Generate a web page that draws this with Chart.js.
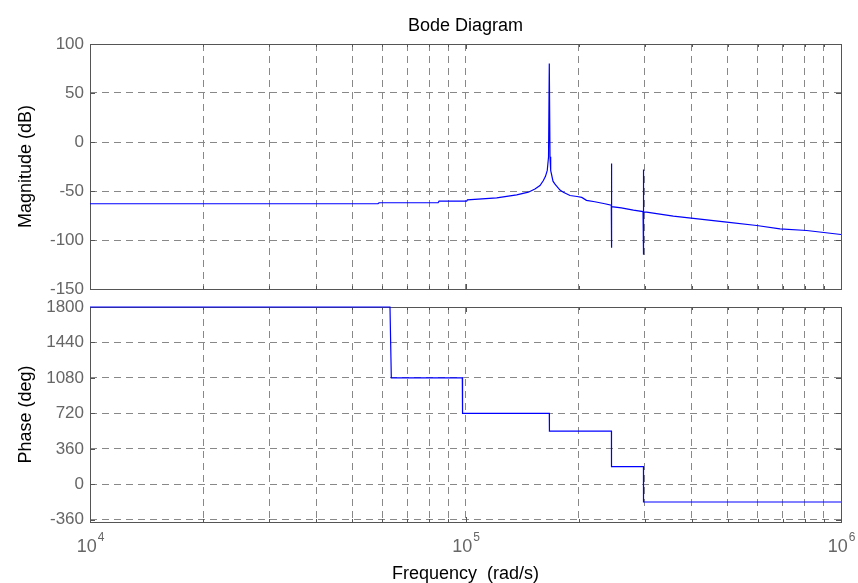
<!DOCTYPE html>
<html>
<head>
<meta charset="utf-8">
<script src="https://cdn.jsdelivr.net/npm/chart.js@4.4.1/dist/chart.umd.min.js"></script>
<style>
  body { margin: 0; background: #fff; }
  #wrap { position: relative; width: 858px; height: 583px; }
  .box { position: absolute; left: 0; width: 858px; }
</style>
</head>
<body>
<div id="wrap">
  <div class="box" style="top:0;height:320px"><canvas id="mag"></canvas></div>
  <div class="box" style="top:283px;height:300px"><canvas id="fase"></canvas></div>
</div>
<script>
const magFreq = [1e4, 58480, 58840, 84530, 85040, 100700, 101200, 121100, 136900, 147000,
  153100, 157900, 161200, 163300, 165100, 166400, 167170, 167900, 168600, 171000,
  173100, 178500, 182200, 189800, 198200, 204000, 210000, 221000, 235000, 244500,
  244700, 244900, 245200, 260000, 280000, 297000, 297500, 298000, 298300, 303600,
  357600, 496300, 596300, 687800, 810300, 1e6];
const magDb = [-63, -63, -62, -62, -60.3, -60.3, -59, -57, -54, -51.2,
  -48, -44.4, -39.3, -35, -29, -15, 80, -15, -29, -40,
  -43, -49, -51.2, -54.6, -55.6, -56.5, -59.5, -61, -63, -64.5,
  -22, -108, -66, -67.3, -69.5, -71, -28, -115, -71.3, -71.6,
  -75.7, -81.8, -85.2, -88.6, -90.3, -94.4];

const faseFreq = [1e4, 62940, 63450, 98060, 98200, 167170, 167300, 244700, 244800, 297800, 297900, 1e6];
const faseDeg = [1800, 1800, 1080, 1080, 720, 720, 540, 540, 180, 180, -180, -180];

const magTicks = [-150, -100, -50, 0, 50, 100];
const faseTicks = [-360, 0, 360, 720, 1080, 1440, 1800];
const decadas = [4, 5, 6];

const FUENTE = '"Liberation Sans", Arial, sans-serif';
const GRIS = '#666666';

function puntos(xs, ys) {
  return xs.map((x, i) => ({ x: x, y: ys[i] }));
}

// ticks del eje log: 1..9 por decada
function ticksLog(scale) {
  const t = [];
  for (let e = decadas[0]; e < decadas[decadas.length - 1]; e++) {
    for (let m = 1; m < 10; m++) t.push({ value: m * Math.pow(10, e), major: m === 1 });
  }
  t.push({ value: Math.pow(10, decadas[decadas.length - 1]), major: true });
  scale.ticks = t;
}

// marco y marcas interiores estilo MATLAB
const marco = {
  id: 'marco',
  beforeDatasetsDraw(chart) {
    const a = chart.chartArea;
    const ctx = chart.ctx;
    ctx.save();
    ctx.strokeStyle = '#555555';
    ctx.lineWidth = 1;
    ctx.beginPath();
    chart.scales.x.ticks.forEach(t => {
      const px = Math.round(chart.scales.x.getPixelForValue(t.value)) + 0.5;
      const l = t.major ? 5 : 3;
      ctx.moveTo(px, a.top); ctx.lineTo(px, a.top + l);
      ctx.moveTo(px, a.bottom); ctx.lineTo(px, a.bottom - l);
    });
    chart.scales.y.ticks.forEach(t => {
      const py = Math.round(chart.scales.y.getPixelForValue(t.value)) + 0.5;
      ctx.moveTo(a.left, py); ctx.lineTo(a.left + 5, py);
      ctx.moveTo(a.right, py); ctx.lineTo(a.right - 5, py);
    });
    ctx.stroke();
    ctx.strokeRect(Math.round(a.left) + 0.5, Math.round(a.top) + 0.5,
      Math.round(a.right - a.left), Math.round(a.bottom - a.top));
    ctx.restore();
  }
};

// textos: titulo, etiquetas 10^n y titulo del eje x
const textos = {
  id: 'textos',
  afterDraw(chart, args, opts) {
    const ctx = chart.ctx;
    const a = chart.chartArea;
    const cx = (a.left + a.right) / 2;
    ctx.save();
    if (opts.titulo) {
      ctx.fillStyle = '#000';
      ctx.font = '18px ' + FUENTE;
      ctx.textAlign = 'center';
      ctx.textBaseline = 'alphabetic';
      ctx.fillText(opts.titulo, cx, a.top - 13);
    }
    if (opts.etiquetasX) {
      decadas.forEach(e => {
        const px = chart.scales.x.getPixelForValue(Math.pow(10, e));
        ctx.font = '18px ' + FUENTE;
        const w1 = ctx.measureText('10').width;
        ctx.font = '12px ' + FUENTE;
        const w2 = ctx.measureText(String(e)).width;
        const x0 = px - (w1 + w2) / 2;
        ctx.fillStyle = GRIS;
        ctx.textAlign = 'left';
        ctx.textBaseline = 'alphabetic';
        ctx.font = '18px ' + FUENTE;
        ctx.fillText('10', x0, a.bottom + 30);
        ctx.font = '12px ' + FUENTE;
        ctx.fillText(String(e), x0 + w1 + 1, a.bottom + 19);
      });
      ctx.fillStyle = '#000';
      ctx.font = '18px ' + FUENTE;
      ctx.textAlign = 'center';
      ctx.fillText('Frequency  (rad/s)', cx, a.bottom + 57);
    }
    ctx.restore();
  }
};

function opciones(yMin, yMax, yTicks, tituloY, padding, altoX, extra) {
  return {
    responsive: true,
    maintainAspectRatio: false,
    animation: false,
    layout: { padding: padding },
    plugins: { legend: { display: false }, tooltip: { enabled: false }, title: { display: false }, textos: extra },
    scales: {
      x: {
        type: 'logarithmic',
        min: 1e4,
        max: 1e6,
        afterBuildTicks: ticksLog,
        afterFit: s => { s.height = altoX; },
        ticks: { display: false },
        grid: { color: '#888888', drawTicks: false, lineWidth: 1 },
        border: { display: false, dash: [7, 5] }
      },
      y: {
        min: yMin,
        max: yMax,
        afterBuildTicks: s => { s.ticks = yTicks.map(v => ({ value: v })); },
        afterFit: s => { s.width = 90; },
        ticks: { color: GRIS, font: { family: FUENTE, size: 17 }, padding: 6, callback: v => String(v) },
        grid: { color: '#888888', drawTicks: false, lineWidth: 1 },
        border: { display: false, dash: [7, 5] },
        title: { display: true, text: tituloY, color: '#000', font: { family: FUENTE, size: 18 }, padding: { top: 15, bottom: 0 } }
      }
    }
  };
}

new Chart(document.getElementById('mag'), {
  type: 'line',
  data: {
    datasets: [{
      data: puntos(magFreq, magDb),
      borderColor: '#0000ff',
      borderWidth: 1.2,
      pointRadius: 0,
      tension: 0,
      clip: false
    }]
  },
  options: opciones(-150, 100, magTicks, 'Magnitude (dB)', { top: 44, right: 17, left: 0, bottom: 0 }, 31, { titulo: 'Bode Diagram' }),
  plugins: [marco, textos]
});

new Chart(document.getElementById('fase'), {
  type: 'line',
  data: {
    datasets: [{
      data: puntos(faseFreq, faseDeg),
      borderColor: '#0000ff',
      borderWidth: 1.2,
      pointRadius: 0,
      tension: 0,
      clip: false
    }]
  },
  options: opciones(-383, 1800, faseTicks, 'Phase (deg)', { top: 24, right: 17, left: 0, bottom: 0 }, 61, { etiquetasX: true }),
  plugins: [marco, textos]
});
</script>
</body>
</html>
